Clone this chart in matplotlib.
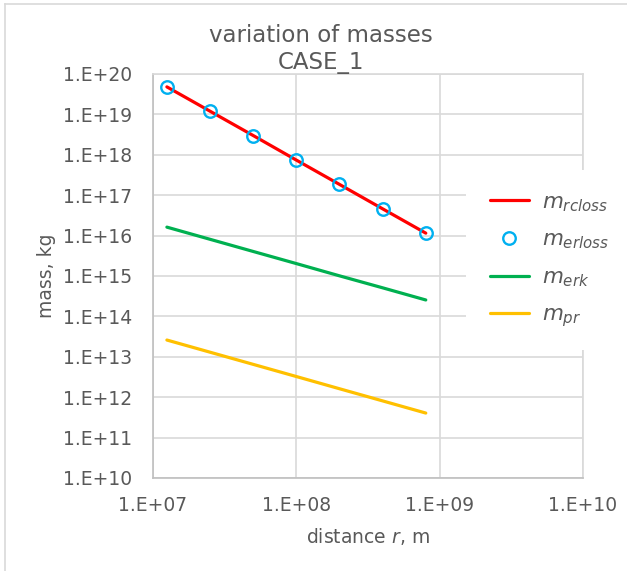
import math
import matplotlib
matplotlib.use("Agg")
import matplotlib.pyplot as plt
from matplotlib.lines import Line2D
from matplotlib.patches import Rectangle
from matplotlib.ticker import FuncFormatter, LogLocator, NullLocator

# ---- data ----
distance_r = [1.25e7, 2.5e7, 5e7, 1e8, 2e8, 4e8, 8e8]
m_rcloss = [4.8e19, 1.2e19, 3.0e18, 7.4e17, 1.85e17, 4.6e16, 1.15e16]
m_erloss = [4.8e19, 1.2e19, 3.0e18, 7.4e17, 1.85e17, 4.6e16, 1.15e16]
m_erk = [1.62e16, 8.1e15, 4.05e15, 2.03e15, 1.01e15, 5.1e14, 2.55e14]
m_pr = [2.6e13, 1.3e13, 6.5e12, 3.25e12, 1.62e12, 8.1e11, 4.05e11]
series_labels = [r"$m_{rcloss}$", r"$m_{erloss}$", r"$m_{erk}$", r"$m_{pr}$"]
title_lines = ["variation of masses", "CASE_1"]
x_label = "distance $r$, m"
y_label = "mass, kg"

plt.rcParams["font.family"] = ["DejaVu Sans"]
plt.rcParams["mathtext.fontset"] = "dejavusans"
TXT = "#595959"

W, H = 627, 571
fig = plt.figure(figsize=(W / 100, H / 100), dpi=100)
fig.patch.set_facecolor("white")

L, R, T, B = 153, 583, 74, 478
ax = fig.add_axes([L / W, (H - B) / H, (R - L) / W, (B - T) / H])
ax.set_xscale("log")
ax.set_yscale("log")
ax.set_xlim(1e7, 1e10)
ax.set_ylim(1e10, 1e20)

ax.plot(distance_r, m_rcloss, color="#ff0000", lw=2.3, solid_capstyle="round", label=series_labels[0], zorder=3)
ax.plot(distance_r, m_erloss, ls="none", marker="o", ms=9, mfc="none", mec="#00b0f0", mew=1.7,
        label=series_labels[1], zorder=4)
ax.plot(distance_r, m_erk, color="#00b050", lw=2.3, solid_capstyle="round", label=series_labels[2], zorder=3)
ax.plot(distance_r, m_pr, color="#ffc000", lw=2.3, solid_capstyle="round", label=series_labels[3], zorder=3)

ax.xaxis.set_major_locator(LogLocator(base=10, numticks=20))
ax.yaxis.set_major_locator(LogLocator(base=10, numticks=20))
ax.xaxis.set_minor_locator(NullLocator())
ax.yaxis.set_minor_locator(NullLocator())
fmt = FuncFormatter(lambda v, p: "1.E+%02d" % round(math.log10(v)))
ax.xaxis.set_major_formatter(fmt)
ax.yaxis.set_major_formatter(fmt)
ax.tick_params(length=0, labelsize=13.5, labelcolor=TXT)
ax.tick_params(axis="y", pad=15)
ax.tick_params(axis="x", pad=13)
ax.grid(True, color="#d9d9d9", lw=1.2)
ax.set_axisbelow(True)
for s in ["top", "right"]:
    ax.spines[s].set_color("#d9d9d9")
for s in ["left", "bottom"]:
    ax.spines[s].set_color("#bfbfbf")
for s in ax.spines.values():
    s.set_linewidth(1.2)

ax.set_xlabel(x_label, fontsize=13.5, color=TXT, labelpad=8)
ax.set_ylabel(y_label, fontsize=13.5, color=TXT, labelpad=5)

fig.text(0.512, 1 - 35 / H, title_lines[0], ha="center", va="center", fontsize=16.5, color=TXT)
fig.text(0.512, 1 - 62 / H, title_lines[1], ha="center", va="center", fontsize=16.5, color=TXT)

# legend background covering gridlines
ax.add_patch(Rectangle((466 / W, 1 - 350 / H), (W - 466) / W, 180 / H, transform=fig.transFigure,
                       facecolor="white", edgecolor="none", zorder=5, clip_on=False))
leg = ax.legend(loc="upper left", bbox_to_anchor=(490 / W, 1 - 192 / H), bbox_transform=fig.transFigure,
                frameon=False, fontsize=15.5, handlelength=1.81, handletextpad=0.62, labelspacing=0.74,
                borderpad=0, borderaxespad=0)
leg.set_zorder(6)
for t in leg.get_texts():
    t.set_color(TXT)

# chart border
fig.add_artist(Line2D([5 / W, 5 / W], [0, 1 - 4 / H], transform=fig.transFigure, color="#d9d9d9", lw=1.2))
fig.add_artist(Line2D([5 / W, 1], [1 - 4 / H, 1 - 4 / H], transform=fig.transFigure, color="#d9d9d9", lw=1.2))

fig.savefig("out.png", dpi=100)
